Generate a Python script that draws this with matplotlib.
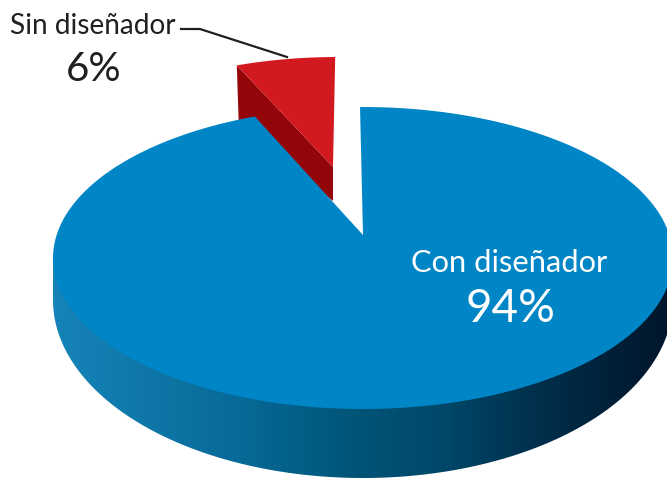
import numpy as np
import matplotlib
matplotlib.use('Agg')
import matplotlib.pyplot as plt
from matplotlib.colors import LinearSegmentedColormap
from matplotlib.patches import Polygon

etiquetas = ['Con diseñador', 'Sin diseñador']
porcentajes = [94, 6]
textos_valor = ['94%', '6%']

plt.rcParams['font.family'] = ['Lato', 'DejaVu Sans']

AZUL = '#0085c6'
ROJO = '#d31920'
ROJO_OSCURO = '#930509'
TINTA = '#231f20'

# la vista en perspectiva acorta un poco el angulo de la porcion separada
ACORTE = 0.92
angulo_sin = porcentajes[1] / 100 * 360 * ACORTE
inicio = 0.55


def arco(cx, cy, rx, ry, t0, t1, n=200):
    # t en grados, medido desde arriba en sentido antihorario
    t = np.radians(np.linspace(t0, t1, n))
    return np.column_stack([cx - rx * np.sin(t), cy - ry * np.cos(t)])


fig = plt.figure(figsize=(6.67, 4.79), dpi=100)
ax = fig.add_axes([0, 0, 1, 1])

# canto del disco con degradado horizontal
borde = arco(363, 300, 310, 178, 90, 270)
canto = Polygon(np.vstack([[[53, 258]], borde, [[673, 258]]]), closed=True,
                fc='none', ec='none', zorder=1)
ax.add_patch(canto)
degradado = LinearSegmentedColormap.from_list(
    'canto', [(0, '#1684b8'), (0.3, '#076a98'), (0.48, '#005578'),
              (0.62, '#00496a'), (0.8, '#002d49'), (1, '#001529')])
img = ax.imshow(np.linspace(0, 1, 620).reshape(1, -1), cmap=degradado, aspect='auto',
                extent=(53, 673, 479, 258), zorder=1)
img.set_clip_path(canto)

# cara superior azul
cara = arco(363, 258, 310, 151, inicio + angulo_sin, 360 + inicio)
ax.add_patch(Polygon(np.vstack([[[363, 235]], cara]), closed=True, fc=AZUL, ec='none', zorder=3))

# porcion roja separada
arco_rojo = arco(338, 190, 290, 133, inicio, inicio + angulo_sin)
izq = arco_rojo[-1]
ax.add_patch(Polygon([izq, [333, 167], [333, 201], [izq[0] + 2, izq[1] + 60]], closed=True,
                     fc=ROJO_OSCURO, ec='none', zorder=2))
ax.add_patch(Polygon(np.vstack([[[333, 167]], arco_rojo]), closed=True, fc=ROJO, ec='none', zorder=2))

# linea guia
ax.plot([181, 200, 287], [29, 29, 57], color=TINTA, lw=1.6, solid_joinstyle='miter', zorder=4)

ax.text(509.5, 263, etiquetas[0], color='white', fontsize=22.2, ha='center', va='center', zorder=5)
ax.text(510.5, 309, textos_valor[0], color='white', fontsize=33, ha='center', va='center', zorder=5)
ax.text(93, 26, etiquetas[1], color=TINTA, fontsize=20.2, ha='center', va='center', zorder=5)
ax.text(94, 69, textos_valor[1], color=TINTA, fontsize=29, ha='center', va='center', zorder=5)

ax.set_xlim(0, 667)
ax.set_ylim(479, 0)
ax.axis('off')

fig.savefig('out.png', dpi=100)
